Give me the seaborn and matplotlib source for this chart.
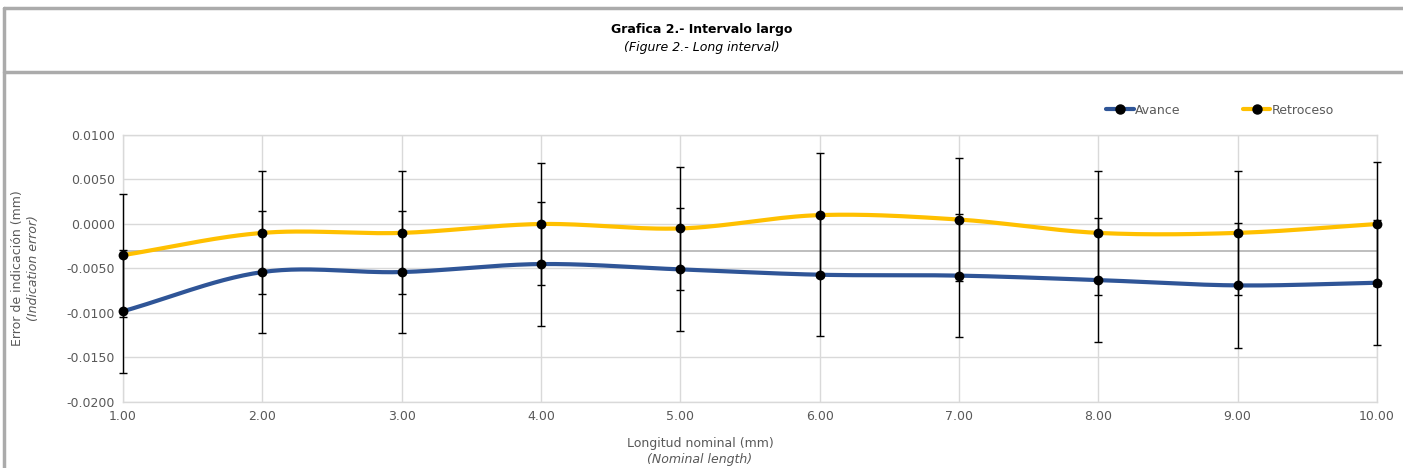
import numpy as np
import pandas as pd
import matplotlib
matplotlib.use("Agg")
import matplotlib.pyplot as plt
from matplotlib.lines import Line2D
import seaborn as sns

# Data
longitud = [1, 2, 3, 4, 5, 6, 7, 8, 9, 10]
avance = [-0.0098, -0.0054, -0.0054, -0.0045, -0.0051, -0.0057, -0.0058, -0.0063, -0.0069, -0.0066]
retroceso = [-0.0035, -0.0010, -0.0010, 0.0000, -0.0005, 0.0010, 0.0005, -0.0010, -0.0010, 0.0000]
incert_avance = [0.0069, 0.0069, 0.0069, 0.0070, 0.0069, 0.0069, 0.0069, 0.0070, 0.0070, 0.0070]
incert_retroceso = [0.0069, 0.0069, 0.0069, 0.0069, 0.0069, 0.0070, 0.0069, 0.0070, 0.0070, 0.0070]
linea_ref = -0.0030
x_ticks = [1, 2, 3, 4, 5, 6, 7, 8, 9, 10]
y_ticks = [0.0100, 0.0050, 0.0000, -0.0050, -0.0100, -0.0150, -0.0200]

df = pd.DataFrame({
    "Longitud": longitud * 2,
    "Error": avance + retroceso,
    "Serie": ["Avance"] * 10 + ["Retroceso"] * 10,
})

colores = {"Avance": "#2F5597", "Retroceso": "#FFC000"}


def suavizar(x, y, n=30):
    # Catmull-Rom curve, like Excel's "smoothed line"
    x = np.asarray(x, float)
    y = np.asarray(y, float)
    px = np.concatenate([[2 * x[0] - x[1]], x, [2 * x[-1] - x[-2]]])
    py = np.concatenate([[2 * y[0] - y[1]], y, [2 * y[-1] - y[-2]]])
    xs, ys = [], []
    t = np.linspace(0, 1, n)
    for i in range(1, len(px) - 2):
        for p, out in ((px, xs), (py, ys)):
            p0, p1, p2, p3 = p[i - 1], p[i], p[i + 1], p[i + 2]
            out.append(0.5 * (2 * p1 + (-p0 + p2) * t
                              + (2 * p0 - 5 * p1 + 4 * p2 - p3) * t ** 2
                              + (-p0 + 3 * p1 - 3 * p2 + p3) * t ** 3))
    return np.concatenate(xs), np.concatenate(ys)


sns.set_theme(style="white")
plt.rcParams["font.family"] = ["DejaVu Sans"]

fig = plt.figure(figsize=(14.03, 4.68), dpi=100)
ax = fig.add_axes([123 / 1403, 1 - 402 / 468, 1254 / 1403, 267 / 468])

# frame of the chart block
borde = "#ABABAB"
fig.add_artist(Line2D([4 / 1403, 1], [1 - 8 / 468] * 2, color=borde, lw=2.5))
fig.add_artist(Line2D([4 / 1403, 1], [1 - 72 / 468] * 2, color=borde, lw=2.5))
fig.add_artist(Line2D([4 / 1403] * 2, [0, 1 - 8 / 468], color=borde, lw=2.5))

fig.text(0.5, 1 - 30 / 468, "Grafica 2.- Intervalo largo", ha="center", va="center",
         fontsize=9, fontweight="bold", color="black")
fig.text(0.5, 1 - 47 / 468, "(Figure 2.- Long interval)", ha="center", va="center",
         fontsize=9, style="italic", color="black")

ax.axhline(linea_ref, color="#B3B3B3", lw=1.2, zorder=1)

for serie, vals, err in (("Avance", avance, incert_avance),
                         ("Retroceso", retroceso, incert_retroceso)):
    sx, sy = suavizar(longitud, vals)
    ax.plot(sx, sy, color=colores[serie], lw=3, zorder=2, solid_capstyle="round",
            clip_on=False)
    eb = ax.errorbar(longitud, vals, yerr=err, fmt="none", ecolor="black",
                     elinewidth=1, capsize=3, capthick=1, zorder=3)
    for art in eb.lines[1] + eb.lines[2]:
        art.set_clip_on(False)

sns.scatterplot(data=df, x="Longitud", y="Error", color="black", s=50,
                edgecolor="black", linewidth=0, zorder=4, legend=False,
                clip_on=False, ax=ax)

ax.set_xlim(1, 10)
ax.set_ylim(-0.0200, 0.0100)
ax.set_xticks(x_ticks)
ax.set_xticklabels([f"{v:.2f}" for v in x_ticks])
ax.set_yticks(y_ticks)
ax.set_yticklabels([f"{v:.4f}" for v in y_ticks])
ax.grid(True, color="#D9D9D9", lw=1)
for s in ax.spines.values():
    s.set_color("#D9D9D9")
    s.set_linewidth(1)
ax.tick_params(axis="both", length=0, labelsize=9, labelcolor="#595959", pad=6)
ax.set_xlabel("")
ax.set_ylabel("")

fig.text(700 / 1403, 1 - 443 / 468, "Longitud nominal (mm)", ha="center", va="center",
         fontsize=9, color="#595959")
fig.text(700 / 1403, 1 - 460 / 468, "(Nominal length)", ha="center", va="center",
         fontsize=9, style="italic", color="#595959")
fig.text(18 / 1403, 1 - 268 / 468, "Error de indicación (mm)", ha="center", va="center",
         rotation=90, fontsize=9, color="#595959")
fig.text(33 / 1403, 1 - 268 / 468, "(Indication error)", ha="center", va="center",
         rotation=90, fontsize=9, style="italic", color="#595959")

handles = [Line2D([], [], color=colores[s], lw=3, marker="o", markersize=6.5,
                  markerfacecolor="black", markeredgecolor="black") for s in ("Avance", "Retroceso")]
leg = fig.legend(handles, ["Avance", "Retroceso"], loc="center", ncol=2,
                 bbox_to_anchor=(1220 / 1403, 1 - 110 / 468), frameon=False,
                 fontsize=9, handlelength=2.2, handletextpad=0.1, columnspacing=5)
for t in leg.get_texts():
    t.set_color("#595959")

fig.savefig("out.png", dpi=100)
